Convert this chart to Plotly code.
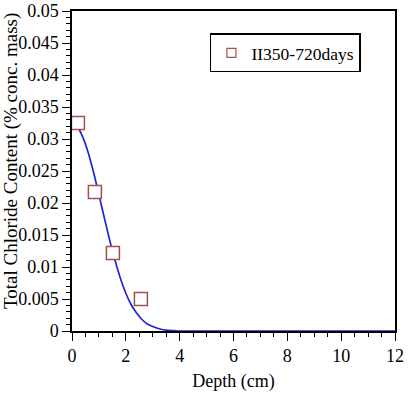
import plotly.graph_objects as go

# Measured data
depth_meas = [0.22, 0.85, 1.52, 2.56]
chloride_meas = [0.0325, 0.0217, 0.0122, 0.0050]

# Fitted curve
depth_fit = [0, 0.2, 0.4, 0.6, 0.8, 1.0, 1.2, 1.4, 1.6, 1.8, 2.0, 2.2, 2.4, 2.6,
             2.8, 3.0, 3.2, 3.4, 3.6, 3.8, 4.0, 5, 6, 7, 8, 9, 10, 11, 12]
chloride_fit = [0.0325, 0.0319, 0.0303, 0.0279, 0.0248, 0.0213, 0.0177, 0.0142,
                0.0110, 0.0082, 0.0059, 0.0041, 0.0028, 0.0018, 0.0011, 0.0007,
                0.0004, 0.0002, 0.0001, 0.00005, 0, 0, 0, 0, 0, 0, 0, 0, 0]

x_ticks = [0, 2, 4, 6, 8, 10, 12]
y_ticks = [0, 0.005, 0.01, 0.015, 0.02, 0.025, 0.03, 0.035, 0.04, 0.045, 0.05]
y_tick_text = ["0", "0.005", "0.01", "0.015", "0.02", "0.025", "0.03", "0.035",
               "0.04", "0.045", "0.05"]
series_name = "II350-720days"
x_title = "Depth (cm)"
y_title = "Total Chloride Content (% conc. mass)"

font = "Liberation Serif, Times New Roman, serif"
marker_edge = "#a05050"

fig = go.Figure()
fig.add_trace(go.Scatter(x=depth_fit, y=chloride_fit, mode="lines",
                         line=dict(color="#2424d0", width=1.7, shape="spline"),
                         showlegend=False, hoverinfo="skip"))
fig.add_trace(go.Scatter(x=depth_meas, y=chloride_meas, mode="markers",
                         name=series_name, showlegend=False,
                         marker=dict(symbol="square", size=13, color="white",
                                     line=dict(color=marker_edge, width=1.5))))
# legend entry (smaller symbol, as in the reference legend)
fig.add_trace(go.Scatter(x=[None], y=[None], mode="markers", name=series_name,
                         marker=dict(symbol="square", size=9, color="white",
                                     line=dict(color=marker_edge, width=1.2))))

fig.update_layout(
    width=418, height=395,
    margin=dict(l=72, r=23, t=11, b=64),
    paper_bgcolor="white", plot_bgcolor="white",
    font=dict(family=font, size=18, color="black"),
    showlegend=True,
    legend=dict(x=0.427, y=0.93, xanchor="left", yanchor="top",
                bordercolor="black", borderwidth=1.5, bgcolor="white",
                font=dict(family=font, size=17.5),
                itemsizing="trace"),
    annotations=[dict(text=y_title, textangle=-90, xref="paper", yref="paper",
                      x=-0.187, y=0.53, xanchor="center", yanchor="middle",
                      showarrow=False, font=dict(family=font, size=19))],
)
fig.update_xaxes(range=[0, 12], tickvals=x_ticks, ticktext=[str(v) for v in x_ticks],
                 automargin=False, ticklabeloverflow="allow",
                 showgrid=False, zeroline=False,
                 showline=True, linecolor="black", linewidth=1.5, mirror=True,
                 ticks="outside", ticklen=8, tickwidth=1.2, tickcolor="black",
                 minor=dict(dtick=0.5, tick0=0, ticks="outside", ticklen=4, tickcolor="black", tickwidth=1),
                 title=dict(text=x_title, font=dict(size=18), standoff=9))
fig.update_yaxes(range=[0, 0.05], tickvals=y_ticks, ticktext=y_tick_text,
                 automargin=False, ticklabeloverflow="allow",
                 showgrid=False, zeroline=False,
                 showline=True, linecolor="black", linewidth=1.5, mirror=True,
                 ticks="outside", ticklen=8, tickwidth=1.2, tickcolor="black",
                 minor=dict(dtick=0.001, tick0=0, ticks="outside", ticklen=4, tickcolor="black", tickwidth=1))

fig.write_html("out.html")
